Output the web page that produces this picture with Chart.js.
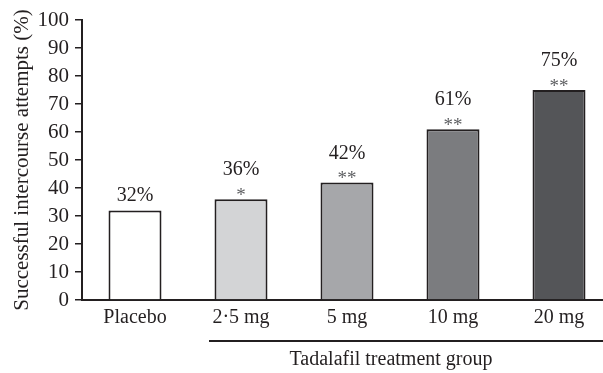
<!DOCTYPE html>
<html lang="en">
<head>
<meta charset="UTF-8">
<title>Successful intercourse attempts by treatment group</title>
<script src="https://cdn.jsdelivr.net/npm/chart.js"></script>
<style>
  * { margin: 0; padding: 0; box-sizing: border-box; }
  html, body { width: 603px; height: 373px; overflow: hidden; background: #fff; }
  #wrap { width: 612px; height: 373px; }
</style>
</head>
<body>
<div id="wrap"><canvas id="chart" width="612" height="373"></canvas></div>
<script>
const categories = ['Placebo', '2·5 mg', '5 mg', '10 mg', '20 mg'];
const values = [32, 36, 42, 61, 75];
const stars = ['', '*', '**', '**', '**'];
const fills = ['#ffffff', '#d3d4d6', '#a6a7aa', '#7b7c7f', '#545558'];

const ink = '#231f20';
const serif = 'Liberation Serif, Times New Roman, serif';

// percentages and significance stars above each bar, plus the group bracket
const annotate = {
  id: 'annotate',
  afterDatasetsDraw(chart) {
    const ctx = chart.ctx;
    const bars = chart.getDatasetMeta(0).data;
    ctx.save();
    ctx.textAlign = 'center';
    ctx.textBaseline = 'middle';
    bars.forEach((bar, i) => {
      const hasStar = stars[i] !== '';
      ctx.fillStyle = ink;
      ctx.font = '20px ' + serif;
      ctx.fillText(values[i] + '%', bar.x, bar.y - (hasStar ? 29 : 15));
      if (hasStar) {
        ctx.fillStyle = '#5f6063';
        ctx.font = '19px ' + serif;
        ctx.fillText(stars[i], bar.x, bar.y - 3);
      }
    });
    ctx.restore();
  },
  afterDraw(chart) {
    const ctx = chart.ctx;
    ctx.save();
    ctx.strokeStyle = ink;
    ctx.lineWidth = 2;
    ctx.beginPath();
    ctx.moveTo(209, 341);
    ctx.lineTo(chart.width, 341);
    ctx.stroke();
    ctx.fillStyle = ink;
    ctx.font = '20px ' + serif;
    ctx.textAlign = 'center';
    ctx.textBaseline = 'middle';
    ctx.fillText('Tadalafil treatment group', 391, 360);
    ctx.restore();
  }
};

new Chart(document.getElementById('chart'), {
  type: 'bar',
  data: {
    labels: categories,
    datasets: [{
      data: values,
      backgroundColor: fills,
      borderColor: ink,
      borderWidth: 2,
      borderSkipped: 'bottom',
      barPercentage: 0.5,
      categoryPercentage: 1.0
    }]
  },
  options: {
    responsive: false,
    animation: false,
    layout: { padding: { top: 20, right: 0, bottom: 0, left: 0 } },
    plugins: { legend: { display: false }, tooltip: { enabled: false } },
    scales: {
      x: {
        afterFit: s => { s.height = 73; },
        grid: { display: false, drawTicks: false },
        border: { display: true, color: ink, width: 2 },
        ticks: { color: ink, font: { family: serif, size: 20 }, padding: 6, autoSkip: false, maxRotation: 0 }
      },
      y: {
        min: 0,
        max: 100,
        afterFit: s => { s.width = 82; },
        grid: { drawOnChartArea: false, drawTicks: true, tickLength: 7, color: ink, lineWidth: 1.5 },
        border: { display: true, color: ink, width: 2 },
        ticks: { stepSize: 10, autoSkip: false, color: ink, font: { family: serif, size: 21 }, padding: 6 },
        title: {
          display: true,
          text: 'Successful intercourse attempts (%)',
          color: ink,
          font: { family: serif, size: 21 },
          padding: { top: 10, bottom: 0 }
        }
      }
    }
  },
  plugins: [annotate]
});
</script>
</body>
</html>
